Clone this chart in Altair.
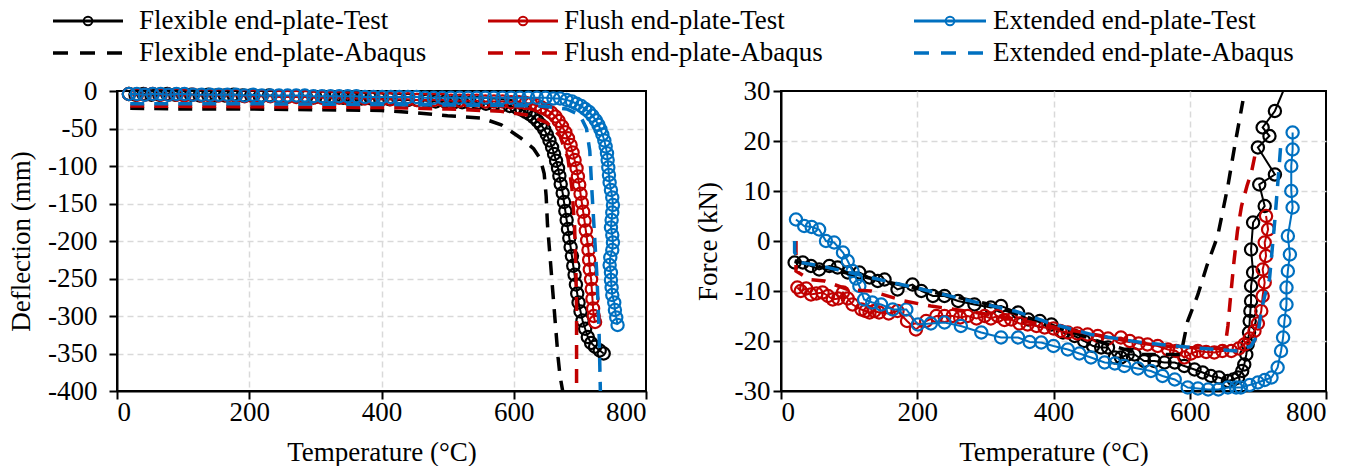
import altair as alt
import pandas as pd

# ---------------- Left panel: Deflection (mm) vs Temperature (°C) ----------------
flex_test_T = [18, 28, 40, 52, 64, 76, 88, 100, 112, 125, 138, 150, 163, 176, 190, 203, 216, 230, 244, 258,
               272, 286, 300, 314, 328, 342, 356, 370, 384, 398, 412, 426, 440, 454, 468, 482, 496, 510, 522, 534,
               546, 558, 570, 582, 594, 604, 612, 618, 624, 630, 636, 641, 646, 650, 654, 658, 661, 664, 667, 669,
               671, 674, 676, 678, 680, 682, 684, 686, 688, 690, 692, 694, 696, 698, 701, 704, 708, 712, 717, 723,
               730, 736]
flex_test_D = [-4, -5, -4, -5, -5, -4, -5, -5, -5, -6, -5, -6, -6, -5, -6, -6, -7, -6, -7, -7,
               -7, -8, -8, -8, -9, -9, -10, -10, -10, -11, -11, -12, -12, -12, -13, -14, -14, -15, -15, -16,
               -16, -17, -18, -19, -20, -22, -25, -28, -31, -35, -40, -45, -51, -58, -66, -75, -84, -93, -103, -113,
               -124, -136, -148, -160, -172, -184, -196, -208, -220, -233, -245, -258, -270, -282, -294, -306, -317, -328, -336, -341,
               -346, -350]

flush_test_T = [18, 30, 42, 54, 66, 78, 90, 102, 115, 128, 141, 154, 167, 180, 193, 206, 219, 232, 245, 258,
                271, 284, 297, 310, 323, 336, 349, 362, 375, 388, 401, 414, 427, 440, 453, 466, 479, 492, 505, 518,
                531, 544, 557, 570, 583, 596, 608, 618, 626, 634, 642, 650, 657, 663, 668, 673, 678, 682, 686, 689,
                692, 695, 697, 699, 701, 703, 705, 707, 709, 711, 713, 714, 715, 717, 718, 719, 720, 721, 723]
flush_test_D = [-4, -5, -5, -4, -5, -5, -5, -6, -5, -6, -6, -6, -6, -6, -7, -7, -7, -7, -8, -8,
                -8, -8, -9, -9, -9, -9, -10, -10, -10, -10, -11, -11, -11, -11, -12, -12, -12, -12, -13, -13,
                -13, -13, -14, -14, -14, -15, -15, -16, -17, -19, -22, -25, -29, -34, -40, -47, -55, -63, -72, -82,
                -92, -103, -114, -125, -137, -149, -161, -173, -186, -199, -212, -225, -238, -251, -264, -277, -290, -300, -308]

ext_test_T = [18, 30, 42, 54, 66, 78, 90, 102, 115, 128, 141, 154, 167, 180, 193, 206, 219, 232, 245, 258,
              271, 284, 297, 310, 323, 336, 349, 362, 375, 388, 401, 414, 427, 440, 453, 466, 479, 492, 505, 518,
              531, 544, 557, 570, 583, 596, 609, 622, 635, 648, 660, 670, 680, 688, 695, 702, 708, 714, 719, 724,
              728, 731, 734, 737, 739, 741, 742, 743, 744, 745, 747, 749, 750, 749, 748, 747, 749, 750, 749, 746,
              745, 747, 747, 748, 749, 752, 753, 755, 757]
ext_test_D = [-4, -4, -5, -4, -4, -5, -4, -4, -5, -5, -5, -5, -5, -5, -6, -5, -6, -6, -6, -6,
              -6, -6, -7, -7, -7, -7, -7, -7, -8, -8, -8, -8, -8, -8, -8, -9, -9, -9, -9, -9,
              -9, -9, -9, -9, -9, -9, -9, -9, -9, -9, -10, -10, -12, -14, -17, -20, -24, -28, -33, -39,
              -45, -51, -58, -66, -74, -83, -92, -102, -112, -122, -132, -142, -152, -162, -172, -182, -192, -202, -212, -222,
              -232, -242, -252, -262, -272, -282, -292, -302, -312]

flex_aba_T = [20, 100, 200, 300, 400, 450, 500, 551, 581, 611, 630, 640, 646, 649, 651, 655, 659, 663, 667, 670, 674]
flex_aba_D = [-23, -24, -24, -25, -26, -29, -33, -36, -45, -63, -77, -90, -110, -140, -178, -222, -267, -311, -355, -380, -400]

flush_aba_T = [20, 200, 400, 500, 580, 620, 650, 670, 682, 688, 692, 694, 695, 695]
flush_aba_D = [-20, -21, -22, -24, -27, -32, -42, -60, -90, -130, -180, -240, -290, -400]

ext_aba_T = [20, 200, 400, 550, 640, 680, 700, 710, 715, 718, 722, 726, 729, 731]
ext_aba_D = [-17, -17, -18, -19, -20, -24, -32, -50, -80, -130, -190, -250, -320, -400]

# ---------------- Right panel: Force (kN) vs Temperature (°C) ----------------
r_flex_test_T = [20, 32, 44, 56, 71, 83, 98, 115, 130, 142, 152, 171, 193, 206, 223, 240, 260, 284, 308,
                 323, 348, 363, 380, 397, 414, 431, 445, 458, 470, 480, 490, 499, 509, 519, 533, 548, 563, 578, 592,
                 607, 619, 631, 643, 656, 664, 671, 677, 680, 683, 685, 687, 688, 689, 690, 690, 693, 690, 693, 710,
                 702, 725, 700, 717, 707, 725, 748]
r_flex_test_F = [-4.3, -4.3, -5, -5.7, -5, -5.3, -6.3, -6.3, -7.3, -8, -7.7, -9.7, -8.7, -10, -11, -11, -12, -12.7, -13.3,
                 -13, -14.3, -15.7, -16, -16.7, -18.3, -19, -20, -21, -21.3, -21.3, -23.3, -23.3, -22.7, -22.7, -24, -24, -24.3, -24.3, -25,
                 -25.7, -26.3, -27, -27.3, -28, -27.7, -27.3, -26, -24.7, -22.7, -20.7, -18.3, -16, -14, -12, -9, -6.3, -1.7, 3.7, 7,
                 11.3, 13.3, 18.7, 21, 22.7, 26, 33.5]

r_flush_test_T = [24, 29, 37, 44, 52, 61, 69, 76, 84, 91, 98, 105, 118, 124, 130, 137, 144, 158, 171, 185,
                  198, 213, 228, 240, 252, 263, 274, 287, 299, 308, 318, 328, 338, 350, 362, 375, 387, 400, 410, 421,
                  435, 450, 465, 480, 499, 512, 525, 538, 553, 568, 580, 592, 602, 612, 624, 636, 648, 661, 672, 680,
                  688, 695, 700, 705, 707, 710, 707, 712, 710, 715, 712]
r_flush_test_F = [-9.3, -10, -9.5, -10.7, -10.5, -10.3, -11, -11.7, -11.5, -10.3, -11.5, -12.7, -13.7, -14, -14.3, -14, -14.3, -14.5, -14, -16,
                  -17.7, -16, -15, -15, -15, -15.3, -15, -15.5, -15, -15.5, -15, -15.8, -15.7, -16.5, -16.7, -17, -17.3, -17.5, -18, -18.3,
                  -18.5, -18.7, -19, -19.5, -19.3, -20, -20.5, -20.7, -21, -21.7, -22, -23.3, -22.5, -22, -22.2, -22.3, -22, -22, -21.5, -20.7,
                  -19.5, -18, -16.5, -14, -11, -8.3, -5.7, -3, -0.3, 2.3, 5]

r_ext_test_T = [22, 34, 45, 56, 66, 78, 91, 98, 105, 110, 115, 122, 134, 147, 164, 184, 201, 220, 240, 264,
                294, 323, 348, 365, 382, 400, 421, 438, 455, 475, 490, 504, 524, 543, 560, 578, 597, 612, 627, 642,
                656, 668, 675, 688, 700, 710, 720, 729, 734, 737, 739, 742, 742, 744, 747, 744, 751, 749, 749, 751, 751]
r_ext_test_F = [4.3, 3, 2.8, 2.3, 0, -0.3, -2.3, -4, -6, -7.5, -9, -11.7, -12.3, -12.7, -13.7, -13.7, -16.7, -16.5, -16.3, -17,
                -18.3, -19.3, -19.3, -20.2, -20.3, -21, -21.7, -22.5, -23.3, -24.3, -24.5, -25, -25.5, -26, -27, -27.7, -29.3, -29.5, -29.7, -29.7,
                -29.3, -29.3, -29.3, -28.8, -28.3, -27.8, -27.3, -25.3, -22, -19.3, -16, -12.7, -9.3, -6, -2.7, 1, 6.7, 10, 15, 18.3, 21.7]

r_flex_aba_T = [20, 100, 200, 300, 400, 480, 530, 587, 597, 612, 625, 641, 656, 666, 678]
r_flex_aba_F = [-4, -6.5, -9.5, -12.5, -17, -20.7, -22.7, -22.7, -16, -10.7, -5, 1, 11, 19, 28]

r_flush_aba_T = [22, 22, 42, 64, 98, 132, 181, 220, 270, 320, 404, 460, 509, 560, 600, 648, 652, 656, 660, 665, 670, 676, 684, 691, 697]
r_flush_aba_F = [0, -6, -7.7, -8, -9.7, -10, -12, -13, -14, -15, -17.3, -18.7, -20, -21, -21.3, -21.5, -21, -17, -11, -4, 2, 7, 11, 14, 18]

r_ext_aba_T = [20, 20, 29, 59, 122, 196, 269, 343, 392, 455, 529, 602, 671, 690, 700, 705, 710, 717, 725, 732, 734]
r_ext_aba_F = [0, -2.3, -4.3, -5, -7, -9.3, -11.7, -14, -16.3, -18.7, -20.3, -21.3, -22, -21, -18.7, -14, -11, -7.7, 4.3, 16.3, 20]

# ---------------- Series names / colours / ticks ----------------
names = ["Flexible end-plate-Test", "Flush end-plate-Test", "Extended end-plate-Test",
         "Flexible end-plate-Abaqus", "Flush end-plate-Abaqus", "Extended end-plate-Abaqus"]
palette = ["#000000", "#C00000", "#0070C0"]
x_ticks = [0, 200, 400, 600, 800]
left_y_ticks = [-400, -350, -300, -250, -200, -150, -100, -50, 0]
right_y_ticks = [-30, -20, -10, 0, 10, 20, 30]

FONT = "Liberation Serif"
FS = 27


def frame(T, V):
    assert len(T) == len(V)
    return pd.DataFrame({"T": T, "V": V, "i": list(range(len(T)))})


def edge_hidden(lo, hi):
    return {"condition": {"test": f"datum.value == {lo} || datum.value == {hi}", "value": 0}, "value": 1}


def panel(series, ytitle, ydomain, yticks, width, ylabpad, ytitlepad):
    xaxis = alt.Axis(title="Temperature (°C)", values=x_ticks, labelExpr="'' + datum.value",
                     labelFont=FONT, titleFont=FONT, labelFontSize=FS, titleFontSize=FS,
                     labelPadding=0, titlePadding=14, gridOpacity=edge_hidden(0, 800))
    yaxis = alt.Axis(title=ytitle, values=yticks, labelExpr="'' + datum.value",
                     labelFont=FONT, titleFont=FONT, labelFontSize=FS, titleFontSize=FS,
                     labelPadding=ylabpad, titlePadding=ytitlepad,
                     gridOpacity=edge_hidden(ydomain[0], ydomain[1]))
    xs = alt.Scale(domain=[0, 800], nice=False, zero=False)
    ys = alt.Scale(domain=ydomain, nice=False, zero=False)
    layers = []

    def base(T, V):
        return alt.Chart(frame(T, V)).encode(
            x=alt.X("T:Q", scale=xs, axis=xaxis),
            y=alt.Y("V:Q", scale=ys, axis=yaxis),
            order="i:Q",
        )

    for (T, V, color, kind, clip) in series:
        if kind == "test":
            b = base(T, V)
            layers.append(b.mark_line(color=color, strokeWidth=2, clip=clip))
            layers.append(b.mark_point(shape="circle", filled=False, color=color,
                                       size=150, strokeWidth=2.2, opacity=1, clip=clip))
    for (T, V, color, kind, clip) in series:
        if kind == "aba":
            layers.append(base(T, V).mark_line(color=color, strokeWidth=3.5, strokeDash=[14, 10]))
    return alt.layer(*layers).properties(
        width=width, height=300, view=alt.ViewBackground(stroke="black", strokeWidth=2))


left = panel([
    (flex_test_T, flex_test_D, palette[0], "test", False),
    (flush_test_T, flush_test_D, palette[1], "test", False),
    (ext_test_T, ext_test_D, palette[2], "test", False),
    (flex_aba_T, flex_aba_D, palette[0], "aba", False),
    (flush_aba_T, flush_aba_D, palette[1], "aba", False),
    (ext_aba_T, ext_aba_D, palette[2], "aba", False),
], "Deflection (mm)", [-400, 0], left_y_ticks, 529, 12, 12)

right = panel([
    (r_flex_test_T, r_flex_test_F, palette[0], "test", True),
    (r_flush_test_T, r_flush_test_F, palette[1], "test", False),
    (r_ext_test_T, r_ext_test_F, palette[2], "test", False),
    (r_flex_aba_T, r_flex_aba_F, palette[0], "aba", False),
    (r_flush_aba_T, r_flush_aba_F, palette[1], "aba", False),
    (r_ext_aba_T, r_ext_aba_F, palette[2], "aba", False),
], "Force (kN)", [-30, 30], right_y_ticks, 545, 3, 12)

# ---------------- Legend (3 columns x 2 rows) ----------------
col_line_x1 = [-64, 371, 797]
col_line_x2 = [6, 441, 869]
col_text_x = [22, 447, 876]
row_y = [20, 52]

leg = pd.DataFrame({
    "name": names,
    "color": palette * 2,
    "kind": ["test"] * 3 + ["aba"] * 3,
    "x1": col_line_x1 * 2,
    "x2": col_line_x2 * 2,
    "xt": col_text_x * 2,
    "y": [row_y[0]] * 3 + [row_y[1]] * 3,
})
leg["xm"] = (leg["x1"] + leg["x2"]) / 2

lbase = alt.Chart(leg)
enc_rule = dict(x=alt.X("x1:Q", scale=None, axis=None), x2="x2:Q",
                y=alt.Y("y:Q", scale=None, axis=None), color=alt.Color("color:N", scale=None, legend=None))
leg_test_line = lbase.transform_filter("datum.kind == 'test'").mark_rule(strokeWidth=3).encode(**enc_rule)
leg_aba_line = lbase.transform_filter("datum.kind == 'aba'").mark_rule(
    strokeWidth=3.5, strokeDash=[15, 12]).encode(**enc_rule)
leg_pts = lbase.transform_filter("datum.kind == 'test'").mark_point(
    shape="circle", filled=False, size=75, strokeWidth=2, opacity=1).encode(
    x=alt.X("xm:Q", scale=None, axis=None), y=alt.Y("y:Q", scale=None, axis=None),
    color=alt.Color("color:N", scale=None, legend=None))
leg_text = lbase.mark_text(align="left", baseline="middle", font=FONT, fontSize=FS, color="black").encode(
    x=alt.X("xt:Q", scale=None, axis=None), y=alt.Y("y:Q", scale=None, axis=None), text="name:N")
anchor = alt.Chart(pd.DataFrame({"a": [0]})).mark_rule(opacity=0, strokeWidth=0.1).encode(
    x=alt.value(-116), x2=alt.value(-115), y=alt.value(0), y2=alt.value(1))

legend = alt.layer(anchor, leg_test_line, leg_aba_line, leg_pts, leg_text).properties(
    width=1200, height=60, view=alt.ViewBackground(stroke="transparent"))

row = alt.hconcat(left, right, spacing=135, bounds="flush")
chart = alt.vconcat(legend, row, spacing=30, bounds="flush").properties(
    padding=0, background="white"
).configure_axis(
    labelFont=FONT, titleFont=FONT, labelFontSize=FS, titleFontSize=FS, titleFontWeight="normal",
    labelColor="black", titleColor="black", domainColor="black", domainWidth=2,
    tickColor="black", tickWidth=2, tickSize=8, gridColor="#d9d9d9", gridDash=[6, 4], gridWidth=1.5
)

chart.save("out.html", embed_options={"renderer": "svg", "actions": False})
